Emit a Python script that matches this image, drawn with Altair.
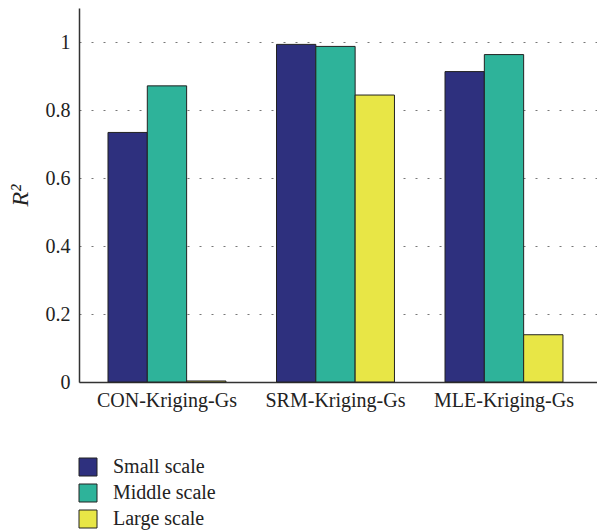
import altair as alt
import pandas as pd

methods = ["CON-Kriging-Gs", "SRM-Kriging-Gs", "MLE-Kriging-Gs"]
scales = ["Small scale", "Middle scale", "Large scale"]
small = [0.734, 0.993, 0.913]
middle = [0.871, 0.987, 0.963]
large = [0.003, 0.844, 0.139]
colors = ["#2E307E", "#2EB39A", "#E8E646"]
y_ticks = [0, 0.2, 0.4, 0.6, 0.8, 1]

rows = []
for series, vals in zip(scales, [small, middle, large]):
    for m, v in zip(methods, vals):
        rows.append({"method": m, "scale": series, "value": v})
df = pd.DataFrame(rows)

FONT = "Liberation Serif"

chart = alt.Chart(df).mark_bar(stroke="#222222", strokeWidth=1).encode(
    x=alt.X(
        "method:N",
        sort=methods,
        scale=alt.Scale(paddingInner=0.3, paddingOuter=0.187, align=0.46),
        axis=alt.Axis(
            title=None, labelAngle=0, labelFont=FONT, labelFontSize=20,
            labelColor="#222222", ticks=False, labelPadding=8,
            domainColor="#333333", domainWidth=1.5,
        ),
    ),
    xOffset=alt.XOffset("scale:N", sort=scales,
                        scale=alt.Scale(paddingInner=0, paddingOuter=0)),
    y=alt.Y(
        "value:Q",
        scale=alt.Scale(domain=[0, 1.1], nice=False),
        axis=alt.Axis(
            values=y_ticks, format="~g", title="R²", titleFont=FONT,
            titleFontSize=24, titleFontStyle="italic", titleFontWeight="normal",
            titleColor="#222222", titlePadding=13, labelFont=FONT,
            labelFontSize=20, labelColor="#222222", labelPadding=9,
            ticks=False, grid=True, gridDash=[2, 10], gridColor="#777777",
            gridWidth=1, domainColor="#333333", domainWidth=1.5,
        ),
    ),
    color=alt.Color(
        "scale:N",
        sort=scales,
        scale=alt.Scale(domain=scales, range=colors),
        legend=alt.Legend(
            title=None, orient="none", legendX=-1, legendY=449,
            direction="vertical", symbolType="square", symbolSize=324,
            symbolStrokeColor="#222222", symbolStrokeWidth=1,
            labelFont=FONT, labelFontSize=20, labelColor="#222222",
            rowPadding=4, labelOffset=15, padding=0,
        ),
    ),
).properties(
    width=518, height=374,
    padding={"left": 0, "top": 0, "right": 0, "bottom": 0},
).configure_view(stroke=None)

chart.save("out.html", embed_options={"renderer": "svg", "actions": False})
